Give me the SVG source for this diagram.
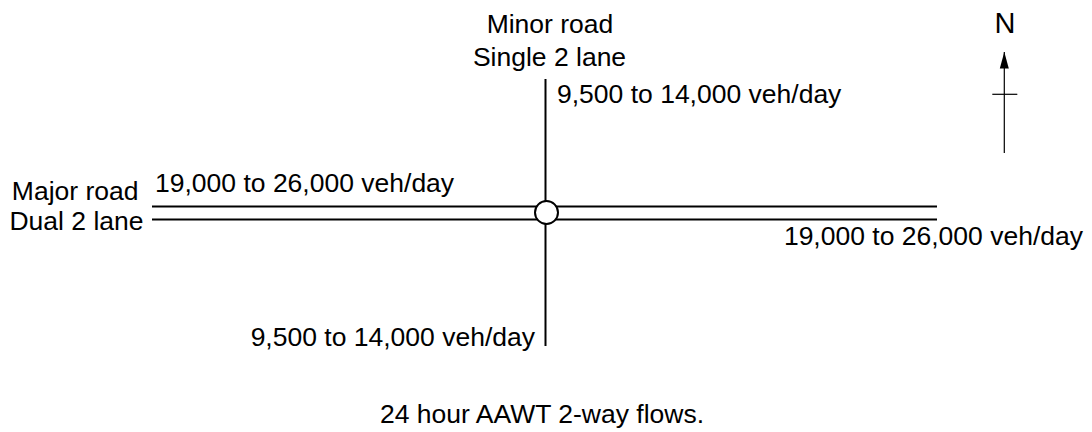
<svg xmlns="http://www.w3.org/2000/svg" width="1092" height="432" viewBox="0 0 1092 432">
<style>
text{font-family:"Liberation Sans",Arial,sans-serif;font-size:26.5px;fill:#000}
.road{stroke:#000;stroke-width:2;fill:none}
.thin{stroke:#000;stroke-width:1.2;fill:none}
</style>
<defs>
<marker id="ah" markerWidth="17" markerHeight="10" refX="16.5" refY="5" orient="auto" markerUnits="userSpaceOnUse" viewBox="0 0 17 10">
<path d="M16.5,5 L0,0.5 L0,9.5 Z" fill="#000"/>
</marker>
</defs>
<g id="connectors">
<line class="road" x1="152" y1="206.5" x2="937" y2="206.5"/>
<line class="road" x1="152" y1="219.5" x2="937" y2="219.5"/>
<line class="road" x1="545.5" y1="79" x2="545.5" y2="346"/>
</g>
<g id="junction">
<circle cx="546.5" cy="212.5" r="11.5" fill="#fff" stroke="#000" stroke-width="2"/>
</g>
<g id="minor-road-label">
<text x="550" y="33" text-anchor="middle">Minor road</text>
<text x="549.5" y="66" text-anchor="middle">Single 2 lane</text>
</g>
<g id="minor-north-flow">
<text x="557" y="103">9,500 to 14,000 veh/day</text>
</g>
<g id="minor-south-flow">
<text x="535" y="345.5" text-anchor="end">9,500 to 14,000 veh/day</text>
</g>
<g id="major-road-label">
<text x="138.5" y="199.5" text-anchor="end">Major road</text>
<text x="143.5" y="230" text-anchor="end">Dual 2 lane</text>
</g>
<g id="major-west-flow">
<text x="155" y="191.5">19,000 to 26,000 veh/day</text>
</g>
<g id="major-east-flow">
<text x="1083" y="245" text-anchor="end">19,000 to 26,000 veh/day</text>
</g>
<g id="north-arrow">
<text x="1005" y="33.3" text-anchor="middle" style="font-size:29px">N</text>
<line class="thin" x1="1004.3" y1="153" x2="1004.3" y2="52" marker-end="url(#ah)"/>
<line class="thin" x1="992.3" y1="94.3" x2="1017.3" y2="94.3"/>
</g>
<g id="caption">
<text x="542" y="423" text-anchor="middle">24 hour AAWT 2-way flows.</text>
</g>
</svg>
